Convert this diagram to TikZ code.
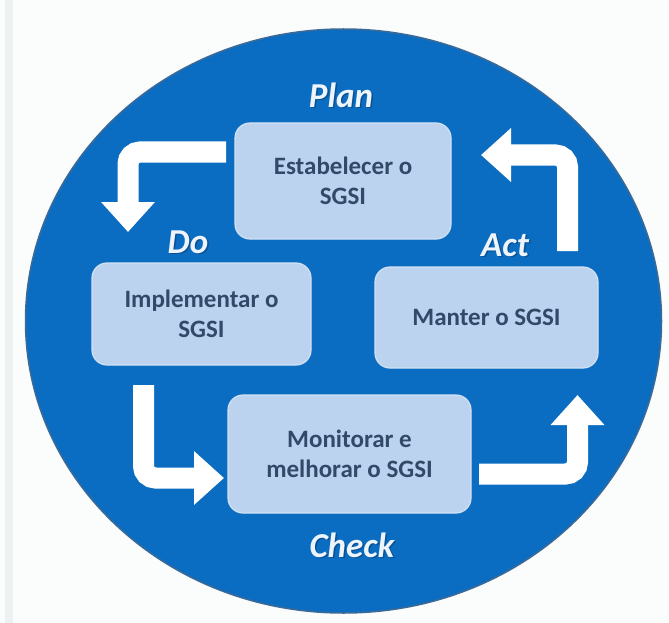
\documentclass[tikz,border=0pt]{standalone}
\usepackage{fontspec}
\setmainfont{Carlito}
\usetikzlibrary{arrows.meta}
\definecolor{bg}{HTML}{FBFCFC}
\definecolor{strip}{HTML}{EEF1F2}
\definecolor{disc}{HTML}{0B6DC1}
\definecolor{rim}{HTML}{3C6A96}
\definecolor{boxfill}{HTML}{BBD3EE}
\definecolor{boxline}{HTML}{D3E2F3}
\definecolor{boxtext}{HTML}{33496A}
\definecolor{labtext}{HTML}{EEF4FB}
\definecolor{labshadow}{HTML}{0A3A6E}
\begin{document}
\begin{tikzpicture}[x=1pt,y=-1pt,
  stagebox/.style={draw=boxline, line width=1.2pt, fill=boxfill, rounded corners=15pt,
    text=boxtext, font=\fontsize{25}{30}\selectfont\bfseries, align=center, inner sep=0pt},
  phase/.style={font=\fontsize{35}{38}\selectfont\bfseries\itshape, text=labtext, inner sep=0pt},
  phaseshadow/.style={phase, text=labshadow, text opacity=0.55},
  bigarrow/.style={draw=white, line width=21pt, rounded corners=12pt,
    -{Triangle[width=52pt,length=30pt]}}]
\useasboundingbox (0,0) rectangle (669,623);
\fill[bg] (0,0) rectangle (669,623);
\fill[strip] (5,0) rectangle (13,623);
\draw[rim, line width=1.5pt, fill=disc] (343.5,321) ellipse [x radius=318pt, y radius=292pt];

% stages
\node[stagebox, minimum width=216pt, minimum height=116pt] (est) at (343,181) {Estabelecer o\\SGSI};
\node[stagebox, minimum width=219pt, minimum height=102pt] (imp) at (201.5,314) {Implementar o\\SGSI};
\node[stagebox, minimum width=223pt, minimum height=101pt] (man) at (486.5,317.5) {Manter o SGSI};
\node[stagebox, minimum width=243pt, minimum height=118pt] (mon) at (349.5,454) {Monitorar e\\melhorar o SGSI};

% arrows
\coordinate (a1s) at (226,152);   \coordinate (a1e) at (128,232);
\coordinate (a2s) at (143.5,385); \coordinate (a2e) at (224,478);
\coordinate (a3s) at (479,474);   \coordinate (a3e) at (577.5,395);
\coordinate (a4s) at (567.5,251); \coordinate (a4e) at (481,155);
\draw[bigarrow] (a1s) -| (a1e);
\draw[bigarrow] (a2s) |- (a2e);
\draw[bigarrow] (a3s) -| (a3e);
\draw[bigarrow] (a4s) |- (a4e);

% phase labels
\node[phaseshadow] (plansh) at (342.5,96.5) {Plan};
\node[phase] (plan) at (341,95) {Plan};
\node[phaseshadow] (dosh) at (189.5,243.5) {Do};
\node[phase] (do) at (188,242) {Do};
\node[phaseshadow] (actsh) at (506.5,246.5) {Act};
\node[phase] (act) at (505,245) {Act};
\node[phaseshadow] (checksh) at (353.5,546.5) {Check};
\node[phase] (check) at (352,545) {Check};
\end{tikzpicture}
\end{document}
